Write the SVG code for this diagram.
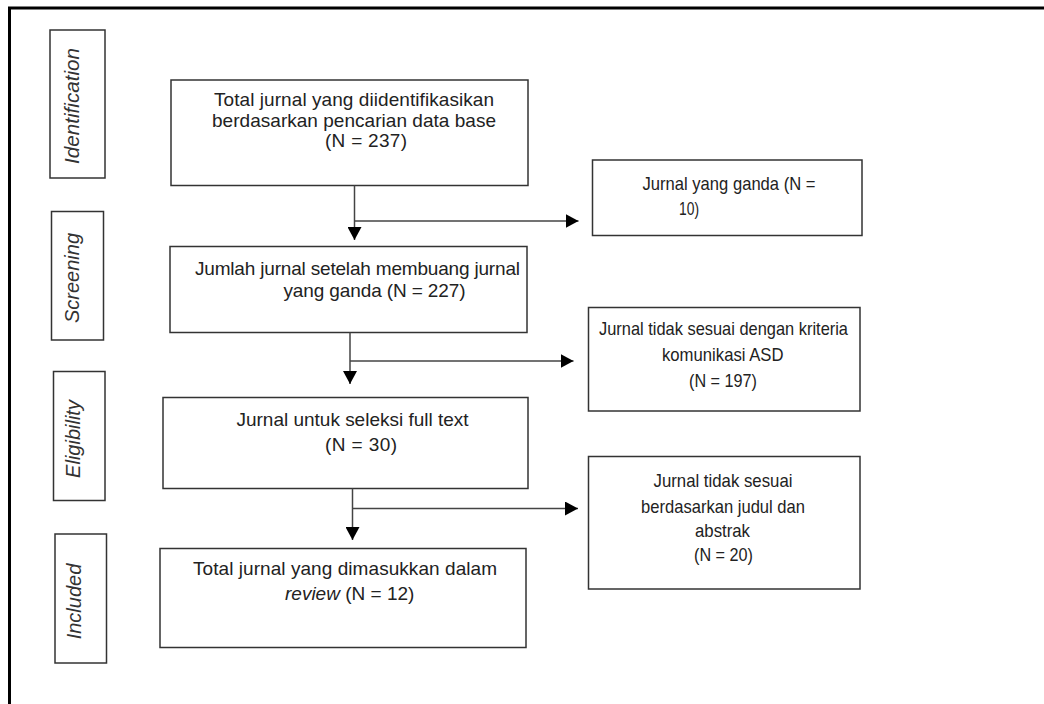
<svg xmlns="http://www.w3.org/2000/svg" width="1044" height="704" viewBox="0 0 1044 704">
<style>
.bg{fill:#ffffff}
.frame{fill:none;stroke:#000;stroke-width:3}
.box{fill:#fff;stroke:#333;stroke-width:1.5}
.stage{fill:#fff;stroke:#333;stroke-width:1.5}
.t{font-family:"Liberation Sans",Arial,sans-serif;font-size:19px;fill:#222}
.s{font-family:"Liberation Sans",Arial,sans-serif;font-size:20px;font-style:italic;fill:#333}
.c{text-anchor:middle}
.conn{fill:none;stroke:#444;stroke-width:1.5}
</style>
<defs>
<marker id="ah" markerUnits="userSpaceOnUse" markerWidth="13" markerHeight="14" refX="13" refY="7" orient="auto">
<path d="M0,0 L13,7 L0,14 z" fill="#000"/>
</marker>
</defs>
<rect class="bg" x="0" y="0" width="1044" height="704"/>
<path class="frame" d="M9.5,704 L9.5,8 L1044,8"/>

<g id="stage-identification">
<rect class="stage" x="50" y="30" width="55" height="148"/>
<text class="s c" transform="translate(79,106) rotate(-90)" textLength="116" lengthAdjust="spacingAndGlyphs">Identification</text>
</g>
<g id="stage-screening">
<rect class="stage" x="51.5" y="211.5" width="52" height="128.5"/>
<text class="s c" transform="translate(79,278) rotate(-90)">Screening</text>
</g>
<g id="stage-eligibility">
<rect class="stage" x="53.5" y="371.5" width="51.5" height="129"/>
<text class="s c" transform="translate(80,439) rotate(-90)">Eligibility</text>
</g>
<g id="stage-included">
<rect class="stage" x="55" y="534" width="51.5" height="129"/>
<text class="s c" transform="translate(81,601.5) rotate(-90)">Included</text>
</g>

<g id="box-total">
<rect class="box" x="171" y="80" width="357" height="105.5"/>
<text class="t" x="214" y="106" textLength="280" lengthAdjust="spacing">Total jurnal yang diidentifikasikan</text>
<text class="t" x="212" y="127" textLength="284" lengthAdjust="spacing">berdasarkan pencarian data base</text>
<text class="t" x="325" y="147" textLength="82" lengthAdjust="spacing">(N = 237)</text>
</g>

<g id="box-ganda">
<rect class="box" x="592.5" y="160" width="269.5" height="75.5"/>
<text class="t" x="642.5" y="190" textLength="173" lengthAdjust="spacingAndGlyphs">Jurnal yang ganda (N =</text>
<text class="t" x="679" y="215" textLength="20" lengthAdjust="spacingAndGlyphs">10)</text>
</g>

<g id="box-setelah">
<rect class="box" x="170" y="246.5" width="357" height="86"/>
<text class="t" x="195" y="275" textLength="325" lengthAdjust="spacing">Jumlah jurnal setelah membuang jurnal</text>
<text class="t" x="283.5" y="296.5" textLength="182" lengthAdjust="spacing">yang ganda (N = 227)</text>
</g>

<g id="box-kriteria">
<rect class="box" x="588.5" y="307.5" width="271.5" height="103.5"/>
<text class="t" x="599" y="335" textLength="249" lengthAdjust="spacingAndGlyphs">Jurnal tidak sesuai dengan kriteria</text>
<text class="t" x="662" y="360.5" textLength="121.5" lengthAdjust="spacingAndGlyphs">komunikasi ASD</text>
<text class="t" x="689" y="386.5" textLength="68" lengthAdjust="spacingAndGlyphs">(N = 197)</text>
</g>

<g id="box-fulltext">
<rect class="box" x="163" y="397.5" width="365" height="91"/>
<text class="t" x="236.5" y="425.5" textLength="232" lengthAdjust="spacing">Jurnal untuk seleksi full text</text>
<text class="t" x="325" y="450.5" textLength="72" lengthAdjust="spacing">(N = 30)</text>
</g>

<g id="box-judul">
<rect class="box" x="588.5" y="456.5" width="271.5" height="132.5"/>
<text class="t" x="653.5" y="486.5" textLength="139" lengthAdjust="spacingAndGlyphs">Jurnal tidak sesuai</text>
<text class="t" x="641" y="512.5" textLength="164" lengthAdjust="spacingAndGlyphs">berdasarkan judul dan</text>
<text class="t" x="695" y="536.5" textLength="55" lengthAdjust="spacingAndGlyphs">abstrak</text>
<text class="t" x="694" y="561" textLength="59" lengthAdjust="spacingAndGlyphs">(N = 20)</text>
</g>

<g id="box-included">
<rect class="box" x="160" y="548.5" width="366" height="99"/>
<text class="t" x="193" y="575" textLength="304" lengthAdjust="spacing">Total jurnal yang dimasukkan dalam</text>
<text class="t" x="285" y="600"><tspan font-style="italic">review</tspan> (N = 12)</text>
</g>

<g id="connectors">
<path class="conn" d="M354.5,185.5 L354.5,240" marker-end="url(#ah)"/>
<path class="conn" d="M354.5,221 L578.5,221" marker-end="url(#ah)"/>
<path class="conn" d="M350,332.5 L350,384" marker-end="url(#ah)"/>
<path class="conn" d="M350,361 L573.5,361" marker-end="url(#ah)"/>
<path class="conn" d="M352.5,488.5 L352.5,540" marker-end="url(#ah)"/>
<path class="conn" d="M352.5,508.5 L578,508.5" marker-end="url(#ah)"/>
</g>
</svg>
